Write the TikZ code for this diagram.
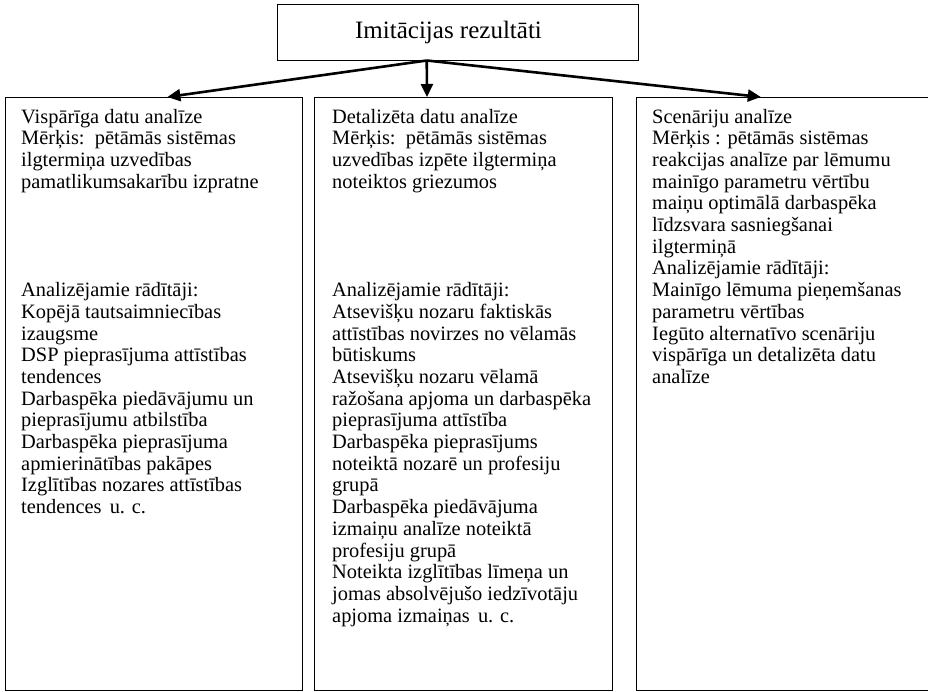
\documentclass[tikz,border=0pt]{standalone}
\usepackage{fontspec}
\setmainfont{Liberation Serif}
\usetikzlibrary{arrows.meta,calc}
\tikzset{
  boxstyle/.style={draw=black, line width=1pt, anchor=north west, inner sep=0pt},
  txt/.style={anchor=base west, inner sep=0pt, font=\fontsize{20.4}{21.7}\selectfont},
  arr/.style={line width=2.6pt, -{Triangle[length=13pt,width=12pt]}}
}
\newcommand{\colt}[1]{\parbox[t]{300pt}{\raggedright #1}}
\begin{document}
\begin{tikzpicture}[x=1pt,y=-1pt]
\useasboundingbox (0,0) rectangle (928,691);
% top box
\node[draw=black, line width=1pt, minimum width=361pt, minimum height=56pt, inner sep=0pt] (top) at (457.5,32) {};
\node[inner sep=0pt, font=\fontsize{25}{30}\selectfont] (title) at (448.5,32) {Imitācijas rezultāti};
% column boxes
\node[boxstyle, minimum width=297pt, minimum height=593pt] (lb) at (5,97) {};
\node[boxstyle, minimum width=298pt, minimum height=593pt] (mb) at (314,97) {};
\node[boxstyle, minimum width=292pt, minimum height=593pt] (rb) at (636,97) {};
% arrows
\coordinate (src) at ($(top.south west)!0.415!(top.south east)$);
\draw[arr] (src) -- ($(lb.north west)!0.545!(lb.north east)$);
\draw[arr] (src) -- ($(mb.north west)!0.378!(mb.north east)$);
\draw[arr] (src) -- ($(rb.north west)!0.426!(rb.north east)$);
% texts
\node[txt] (lt) at (21,123) {\colt{Vispārīga datu analīze\\
Mērķis:\ \ pētāmās sistēmas\\
ilgtermiņa uzvedības\\
pamatlikumsakarību izpratne\\[4\baselineskip]
Analizējamie rādītāji:\\
Kopējā tautsaimniecības\\
izaugsme\\
DSP pieprasījuma attīstības\\
tendences\\
Darbaspēka piedāvājumu un\\
pieprasījumu atbilstība\\
Darbaspēka pieprasījuma\\
apmierinātības pakāpes\\
Izglītības nozares attīstības\\
tendences\hspace{0.4em}u. c.}};
\node[txt] (mt) at (332,123) {\colt{Detalizēta datu analīze\\
Mērķis:\ \ pētāmās sistēmas\\
uzvedības izpēte ilgtermiņa\\
noteiktos griezumos\\[4\baselineskip]
Analizējamie rādītāji:\\
Atsevišķu nozaru faktiskās\\
attīstības novirzes no vēlamās\\
būtiskums\\
Atsevišķu nozaru vēlamā\\
ražošana apjoma un darbaspēka\\
pieprasījuma attīstība\\
Darbaspēka pieprasījums\\
noteiktā nozarē un profesiju\\
grupā\\
Darbaspēka piedāvājuma\\
izmaiņu analīze noteiktā\\
profesiju grupā\\
Noteikta izglītības līmeņa un\\
jomas absolvējušo iedzīvotāju\\
apjoma izmaiņas\hspace{0.4em}u. c.}};
\node[txt] (rt) at (652,123) {\colt{Scenāriju analīze\\
Mērķis : pētāmās sistēmas\\
reakcijas analīze par lēmumu\\
mainīgo parametru vērtību\\
maiņu optimālā darbaspēka\\
līdzsvara sasniegšanai\\
ilgtermiņā\\
Analizējamie rādītāji:\\
Mainīgo lēmuma pieņemšanas\\
parametru vērtības\\
Iegūto alternatīvo scenāriju\\
vispārīga un detalizēta datu\\
analīze}};
\end{tikzpicture}
\end{document}
